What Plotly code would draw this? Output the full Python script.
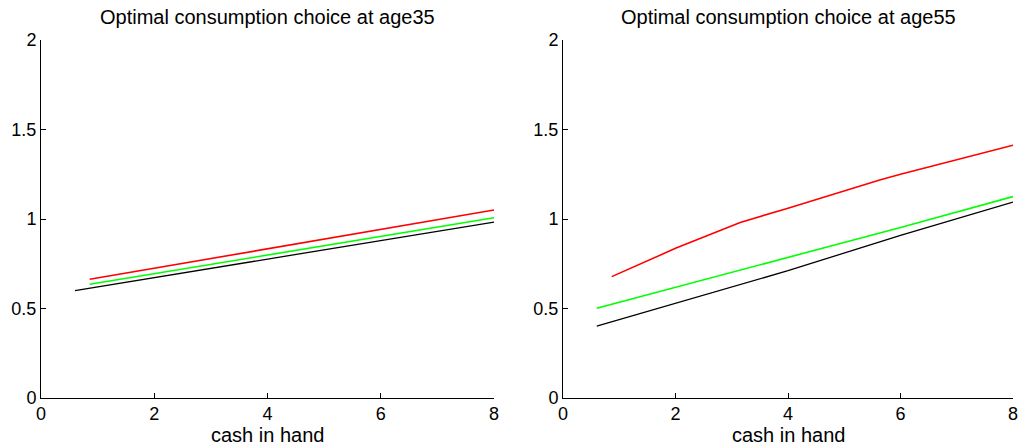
import plotly.graph_objects as go

# Age 35 panel
x35_black = [0.6, 8.0]
y35_black = [0.60, 0.983]
x35_green = [0.86, 8.0]
y35_green = [0.635, 1.007]
x35_red = [0.86, 8.0]
y35_red = [0.663, 1.050]

# Age 55 panel
x55_black = [0.6, 2.0, 4.0, 6.0, 8.0]
y55_black = [0.402, 0.529, 0.711, 0.909, 1.095]
x55_green = [0.6, 2.0, 4.0, 6.0, 8.0]
y55_green = [0.501, 0.618, 0.789, 0.953, 1.125]
x55_red = [0.866, 2.0, 3.15, 4.0, 5.63, 6.0, 8.0]
y55_red = [0.678, 0.836, 0.981, 1.06, 1.218, 1.25, 1.412]

titles = ["Optimal consumption choice at age35", "Optimal consumption choice at age55"]
xlabel = "cash in hand"
xticks = [0, 2, 4, 6, 8]
yticks = [0, 0.5, 1, 1.5, 2]
ytick_text = ["0", "0.5", "1", "1.5", "2"]

FONT = "Liberation Sans, Arial, Helvetica, sans-serif"

fig = go.Figure()
panels = [
    ("x", "y", [(x35_black, y35_black, "black", 1.3), (x35_green, y35_green, "#00ff00", 1.6), (x35_red, y35_red, "#ff0000", 1.6)]),
    ("x2", "y2", [(x55_black, y55_black, "black", 1.3), (x55_green, y55_green, "#00ff00", 1.6), (x55_red, y55_red, "#ff0000", 1.6)]),
]
for xa, ya, series in panels:
    for xs, ys, col, w in series:
        fig.add_trace(go.Scatter(x=xs, y=ys, mode="lines", line=dict(color=col, width=w),
                                 xaxis=xa, yaxis=ya, showlegend=False, hoverinfo="skip"))

axis_common = dict(showgrid=False, zeroline=False, showline=True, linecolor="black", linewidth=1,
                   ticks="inside", ticklen=5, tickcolor="black", mirror=False, automargin=False,
                   tickfont=dict(family=FONT, size=18, color="black"))
ydom = [1 - 398/445, 1 - 40/445]
fig.update_layout(
    template="none",
    width=1019, height=445, autosize=False,
    margin=dict(l=0, r=0, t=0, b=0, pad=0, autoexpand=False),
    paper_bgcolor="white", plot_bgcolor="white",
    xaxis=dict(domain=[41/1019, 494/1019], range=[0, 8], tickvals=xticks, anchor="y",
               ticklabelstandoff=-1, **axis_common),
    yaxis=dict(domain=ydom, range=[0, 2], tickvals=yticks, ticktext=ytick_text, anchor="x", **axis_common),
    xaxis2=dict(domain=[563/1019, 1013/1019], range=[0, 8], tickvals=xticks, anchor="y2",
                ticklabelstandoff=-1, **axis_common),
    yaxis2=dict(domain=ydom, range=[0, 2], tickvals=yticks, ticktext=ytick_text, anchor="x2", **axis_common),
)
for i, cx in enumerate([(41 + 494) / 2 / 1019, (563 + 1013) / 2 / 1019]):
    fig.add_annotation(text=titles[i], x=cx, y=1 - 17.5/445, xref="paper", yref="paper",
                       showarrow=False, font=dict(family=FONT, size=20, color="black"),
                       xanchor="center", yanchor="middle")
    fig.add_annotation(text=xlabel, x=cx, y=1 - 434.5/445, xref="paper", yref="paper",
                       showarrow=False, font=dict(family=FONT, size=20, color="black"),
                       xanchor="center", yanchor="middle")

fig.write_html("out.html", config={"displayModeBar": False},
               post_script="document.body.style.margin='0';document.body.style.padding='0';"
                           "document.body.style.overflow='hidden';")
